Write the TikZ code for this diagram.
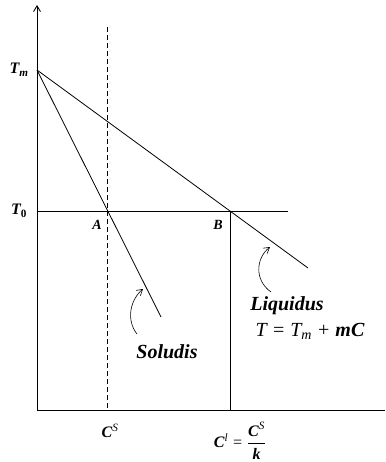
\documentclass[tikz,border=0pt]{standalone}
\usepackage{amsmath}
\usepackage{fontspec}
\setmainfont{Liberation Serif}
\usetikzlibrary{arrows.meta}
\tikzset{
  figaxis/.style={line width=0.9pt},
  figline/.style={line width=0.8pt},
  figdash/.style={line width=0.8pt, dash pattern=on 5pt off 3pt},
  figarrow/.style={-{Straight Barb[length=2mm,width=2.4mm]}, line width=0.6pt},
  figlabel/.style={font=\fontsize{16}{18}\selectfont\bfseries\itshape, inner sep=1pt},
  figpoint/.style={font=\fontsize{14}{16}\selectfont\bfseries\itshape, inner sep=1pt},
  figbig/.style={font=\fontsize{20}{22}\selectfont\bfseries\itshape, inner sep=1pt},
}
\newcommand{\subm}[1]{\textsubscript{\textit{#1}}}

\begin{document}
\begin{tikzpicture}[x=1pt,y=-1pt]
  \useasboundingbox (0,0) rectangle (385,462);
  % axes and reference points
  \coordinate (O) at (37,410);
  \coordinate (ytop) at (37,5);
  \coordinate (xend) at (385,410);
  \coordinate (Tm) at (37,70);
  \coordinate (T0) at (37,211);
  \coordinate (T0end) at (288,211);
  \coordinate (B) at (230,211);
  \coordinate (Bbot) at (230,410);
  \coordinate (soldend) at (161,317);
  \coordinate (liqend) at (308,268);
  \coordinate (dtop) at (107,27);
  \coordinate (dbot) at (107,410);
  \draw[figaxis, -{Straight Barb[length=2mm,width=2.4mm]}] (O) -- (ytop);
  \draw[figaxis] (O) -- (xend);
  \draw[figdash] (dtop) -- (dbot);
  \draw[figline] (T0) -- (T0end);
  \draw[figline] (Tm) -- (soldend);
  \draw[figline] (Tm) -- (liqend);
  \draw[figline] (B) -- (Bbot);
  % pointers
  \coordinate (solfrom) at (137,334);
  \coordinate (solto) at (143,289);
  \coordinate (liqfrom) at (271,292);
  \coordinate (liqto) at (270,247);
  \draw[figarrow] (solfrom) .. controls (126,320) and (130,300) .. (solto);
  \draw[figarrow] (liqfrom) .. controls (254,280) and (256,258) .. (liqto);
  % labels
  \node[figlabel] (Tmlab) at (19,70) {T\subm{m}};
  \node[figlabel] (T0lab) at (19,211) {T\textsubscript{\upshape 0}};
  \node[figpoint] (Alab) at (97,225) {A};
  \node[figpoint] (Blab) at (218,225) {B};
  \node[figbig] (sollab) at (167,352) {Soludis};
  \node[figbig] (liqlab) at (287,306) {Liquidus};
  \node[figbig] (liqeq) at (310,331) {{\mdseries T} {\mdseries =} {\mdseries T\subm{m}} {\mdseries +} mC};
  \node[figlabel] (CSlab) at (110,431) {C\textsuperscript{\mdseries S}};
  \node[figlabel] (Cllab) at (240,441) {C\textsuperscript{\mdseries l} {\mdseries =} $\dfrac{\text{C\textsuperscript{\mdseries S}}}{\text{k}}$};
\end{tikzpicture}
\end{document}
